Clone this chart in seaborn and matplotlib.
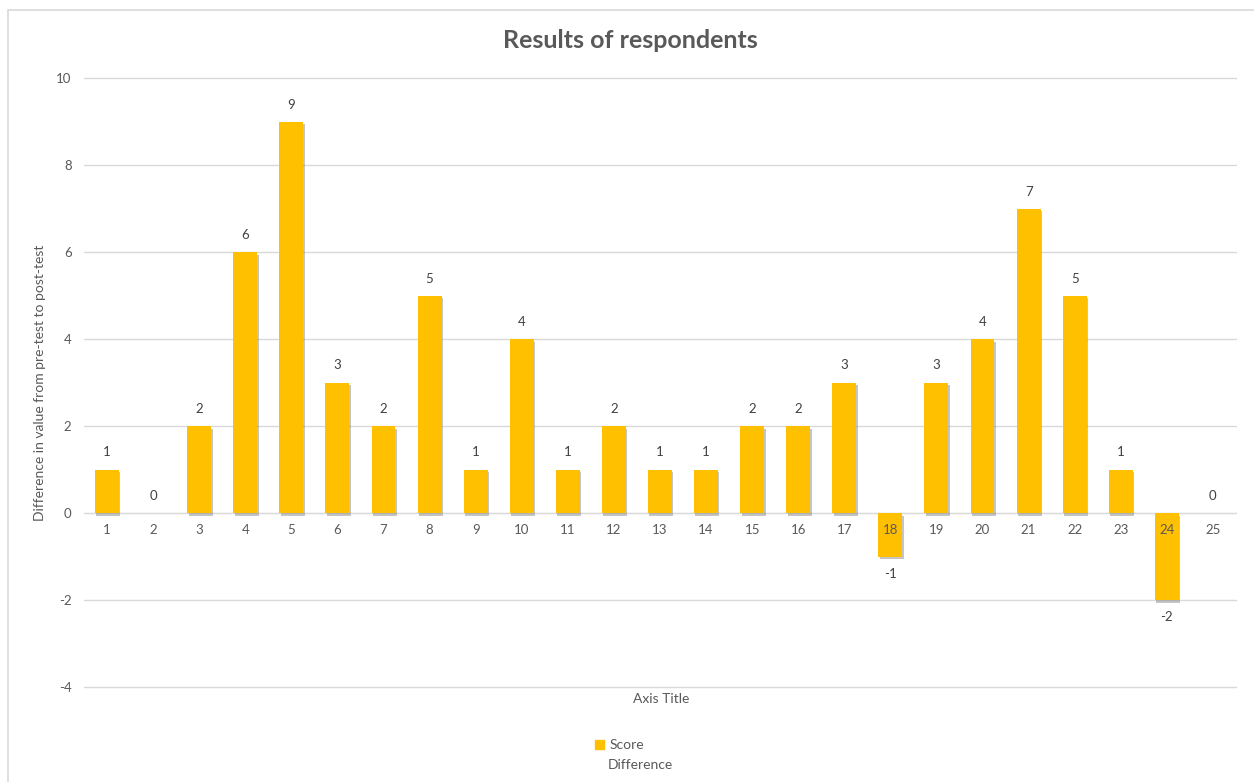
import numpy as np
import pandas as pd
import seaborn as sns
import matplotlib.pyplot as plt
import matplotlib.patheffects as pe
from matplotlib.patches import Rectangle

# Data
respondents = [str(i) for i in range(1, 26)]
difference = [1, 0, 2, 6, 9, 3, 2, 5, 1, 4, 1, 2, 1, 1, 2, 2, 3, -1, 3, 4, 7, 5, 1, -2, 0]

df = pd.DataFrame({"Respondent": respondents, "Score": difference})

sns.set_style("white")
plt.rcParams['font.family'] = ['Lato', 'DejaVu Sans']
plt.rcParams['axes.unicode_minus'] = False

txt = '#595959'
grid = '#d9d9d9'

fig = plt.figure(figsize=(12.54, 7.82), dpi=100)
ax = fig.add_axes([0.067, 0.1215, 0.9186, 0.7785])

sns.barplot(data=df, x="Respondent", y="Score", color='#FFC000', width=0.52,
            saturation=1, linewidth=0, ax=ax, zorder=3)

# soft shadow under the bars, Excel style
for p in ax.patches:
    p.set_path_effects([pe.SimplePatchShadow(offset=(1, -2), shadow_rgbFace='#7f7f7f', alpha=0.45),
                        pe.Normal()])

# data labels
for c in ax.containers:
    ax.bar_label(c, labels=[str(v) for v in difference], padding=8, fontsize=9.5, color='#404040')

ax.set_ylim(-4, 10)
ax.set_yticks(range(-4, 11, 2))
ax.set_xlim(-0.5, 24.5)
ax.yaxis.grid(True, color=grid, linewidth=1)
for gl in ax.yaxis.get_gridlines():
    gl.set_clip_on(False)
ax.yaxis.set_zorder(0.5)
ax.xaxis.set_zorder(5)  # category labels sit on top of the negative bars
for s in ['top', 'right', 'left']:
    ax.spines[s].set_visible(False)
ax.spines['bottom'].set_position(('data', 0))
ax.spines['bottom'].set_color(grid)
ax.spines['bottom'].set_zorder(2)
ax.tick_params(axis='both', length=0, labelsize=9.5, labelcolor=txt)
ax.tick_params(axis='x', pad=8)
ax.tick_params(axis='y', pad=9)

ax.set_xlabel("")
ax.set_ylabel("Difference in value from pre-test to post-test", fontsize=10, color=txt, labelpad=7)
fig.text(0.527, 0.106, "Axis Title", ha='center', va='center', fontsize=10, color=txt)

fig.text(0.503, 0.948, "Results of respondents", ha='center', va='center',
         fontsize=18, fontweight='bold', color=txt)

# legend
leg = fig.legend(handles=[Rectangle((0, 0), 1, 1, color='#FFC000')], labels=["Score"],
                 loc='center', bbox_to_anchor=(0.494, 0.047), frameon=False,
                 handlelength=0.6, handleheight=0.6, handletextpad=0.4, fontsize=10)
for t in leg.get_texts():
    t.set_color(txt)
fig.text(0.485, 0.022, "Difference", ha='left', va='center', fontsize=10, color=txt)

# chart area border
fig.patches.append(Rectangle((0.006, -0.01), 1.0, 0.997, transform=fig.transFigure,
                             fill=False, edgecolor=grid, linewidth=1.2))

plt.savefig("out.png", dpi=100)
